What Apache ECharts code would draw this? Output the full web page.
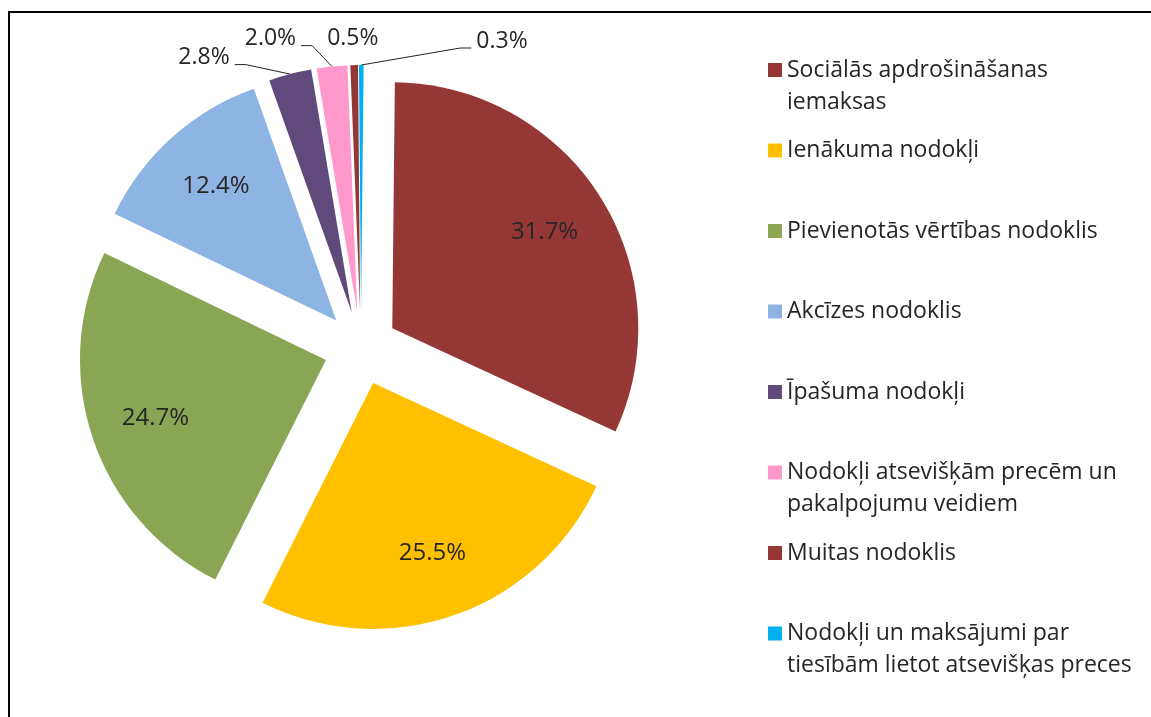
<!DOCTYPE html>
<html>
<head>
<meta charset="utf-8">
<script src="https://cdn.jsdelivr.net/npm/echarts@6/dist/echarts.min.js"></script>
<style>
html, body { margin: 0; padding: 0; background: #ffffff; overflow: hidden; }
#frame { position: absolute; left: 8px; top: 11px; width: 1300px; height: 900px;
         border-top: 2px solid #000; border-left: 2px solid #000; }
#chart { position: absolute; left: 0; top: 0; width: 1151px; height: 717px; }
</style>
</head>
<body>
<div id="frame"></div>
<div id="chart"></div>
<script>
// ---- data ----
const categories = [
  'Sociālās apdrošināšanas iemaksas',
  'Ienākuma nodokļi',
  'Pievienotās vērtības nodoklis',
  'Akcīzes nodoklis',
  'Īpašuma nodokļi',
  'Nodokļi atsevišķām precēm un pakalpojumu veidiem',
  'Muitas nodoklis',
  'Nodokļi un maksājumi par tiesībām lietot atsevišķas preces'
];
const legendLabels = [
  'Sociālās apdrošināšanas\niemaksas',
  'Ienākuma nodokļi',
  'Pievienotās vērtības nodoklis',
  'Akcīzes nodoklis',
  'Īpašuma nodokļi',
  'Nodokļi atsevišķām precēm un\npakalpojumu veidiem',
  'Muitas nodoklis',
  'Nodokļi un maksājumi par\ntiesībām lietot atsevišķas preces'
];
const values = [31.7, 25.5, 24.7, 12.4, 2.8, 2.0, 0.5, 0.3];

// ---- styles ----
const colors = ['#953735', '#FFC000', '#8AA554', '#8EB4E3', '#604A7B', '#FF99CC', '#953735', '#00B0F0'];
const FONT = '"Open Sans", Lato, sans-serif';
const TEXT = '#262626';
const CX = 361, CY = 348, R = 246, EXPLODE = 37;
const outerLines = {
  4: { show: true,  length: 17, length2: 51 },
  5: { show: true,  length: 28, length2: 28 },
  6: { show: false, length: 27, length2: -30 },
  7: { show: true,  length: 24, length2: 110 }
};
const LINE_DROP = 7, LINE_TAIL = 11;
const pct = p => p.value.toFixed(1) + '%';

const pieData = categories.map((name, i) => ({
  name, value: values[i], selected: true,
  itemStyle: { color: colors[i] },
  label: { show: values[i] < 5 },
  labelLine: outerLines[i] || { show: false }
}));
const labelData = categories.map((name, i) => ({
  name, value: values[i], selected: true,
  label: { show: values[i] >= 5 }
}));

// reshape leader lines: run diagonally from the slice to a short tail just below the label
function leaderLayout(p) {
  const pts = p.labelLinePoints;
  if (!pts || pts.length < 3) return {};
  const p1 = pts[0], p2 = pts[1], p3 = pts[2];
  const sgn = p3[0] >= p2[0] ? 1 : -1;
  const y = p3[1] + LINE_DROP;
  return { labelLinePoints: [p1, [p3[0] - sgn * LINE_TAIL, y], [p3[0], y]] };
}

const chart = echarts.init(document.getElementById('chart'), null, { renderer: 'canvas' });
chart.setOption({
  animation: false,
  backgroundColor: 'transparent',
  legend: {
    orient: 'vertical', left: 768, top: 22, padding: 0,
    itemGap: -15.5, itemWidth: 14, itemHeight: 14, icon: 'rect',
    selectedMode: false,
    data: categories,
    formatter: name => {
      const t = legendLabels[categories.indexOf(name)];
      return ' \n' + t + (t.indexOf('\n') < 0 ? '\n ' : '');
    },
    textStyle: { fontFamily: FONT, fontSize: 23, lineHeight: 32, color: TEXT }
  },
  series: [
    {
      type: 'pie', silent: true,
      center: [CX, CY], radius: [0, R],
      startAngle: 89.4, clockwise: true,
      selectedMode: 'multiple', selectedOffset: EXPLODE,
      avoidLabelOverlap: false,
      emphasis: { disabled: true },
      itemStyle: { borderWidth: 0 },
      select: { itemStyle: { borderWidth: 0 } },
      label: { position: 'outside', formatter: pct, fontFamily: FONT, fontSize: 23,
               color: TEXT, distanceToLabelLine: 5 },
      labelLine: { lineStyle: { color: '#222', width: 1 } },
      labelLayout: leaderLayout,
      data: pieData
    },
    {
      type: 'pie', silent: true, z: 3,
      center: [CX, CY], radius: [R * 0.44, R],
      startAngle: 89.4, clockwise: true,
      selectedMode: 'multiple', selectedOffset: EXPLODE,
      avoidLabelOverlap: false,
      emphasis: { disabled: true },
      itemStyle: { color: 'rgba(0,0,0,0)', borderWidth: 0 },
      select: { itemStyle: { color: 'rgba(0,0,0,0)', borderWidth: 0 } },
      label: { position: 'inside', formatter: pct, fontFamily: FONT, fontSize: 24, color: TEXT },
      labelLine: { show: false },
      data: labelData
    }
  ]
});
</script>
</body>
</html>
